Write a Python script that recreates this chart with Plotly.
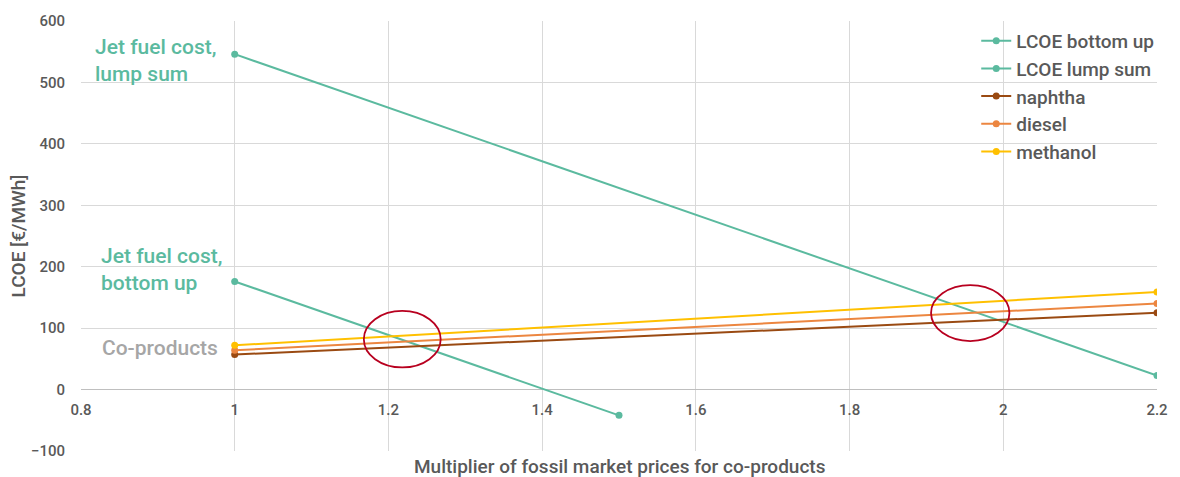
import plotly.graph_objects as go

# Multiplier of fossil market prices applied to co-products
x_lump = [1.0, 2.2]
x_bottom = [1.0, 1.5]
x_coprod = [1.0, 2.2]

# Levelised cost values [€/MWh]
lcoe_bottom_up = [176, -42]
lcoe_lump_sum = [546, 23]
naphtha = [57, 125]
diesel = [64, 140]
methanol = [72, 159]

x_ticks = [0.8, 1.0, 1.2, 1.4, 1.6, 1.8, 2.0, 2.2]
x_tick_text = ["0.8", "1", "1.2", "1.4", "1.6", "1.8", "2", "2.2"]
y_ticks = [-100, 0, 100, 200, 300, 400, 500, 600]

TEAL = "#5BBA9F"
FONT = "Roboto"
GREY_TXT = "#595959"

fig = go.Figure()

series = [
    ("LCOE bottom up", x_bottom, lcoe_bottom_up, TEAL),
    ("LCOE lump sum", x_lump, lcoe_lump_sum, TEAL),
    ("naphtha", x_coprod, naphtha, "#9A4A12"),
    ("diesel", x_coprod, diesel, "#EC8640"),
    ("methanol", x_coprod, methanol, "#FFC000"),
]
for name, xs, ys, col in series:
    fig.add_trace(go.Scatter(
        x=xs, y=ys, name=name, mode="lines+markers",
        line=dict(color=col, width=2),
        marker=dict(color=col, size=7),
    ))

# Intersection highlights
fig.add_shape(type="circle", xref="x", yref="y",
              x0=1.168, x1=1.268, y0=36, y1=128,
              line=dict(color="#B8001F", width=1.8))
fig.add_shape(type="circle", xref="x", yref="y",
              x0=1.906, x1=2.008, y0=79, y1=170,
              line=dict(color="#B8001F", width=1.8))

ann_font = dict(family=FONT, size=21, color=TEAL, weight=500)
fig.add_annotation(x=0.815, y=536, xref="x", yref="y", xanchor="left", yanchor="middle",
                   text="Jet fuel cost,<br>lump sum", showarrow=False, align="left",
                   font=ann_font)
fig.add_annotation(x=0.824, y=196, xref="x", yref="y", xanchor="left", yanchor="middle",
                   text="Jet fuel cost,<br>bottom up", showarrow=False, align="left",
                   font=ann_font)
fig.add_annotation(x=0.825, y=68, xref="x", yref="y", xanchor="left", yanchor="middle",
                   text="Co-products", showarrow=False, align="left",
                   font=dict(family=FONT, size=21, color="#A6A6A6", weight=500))

# X axis title placed below the plot frame
fig.add_annotation(x=0.5, y=-0.035, xref="paper", yref="paper", xanchor="center", yanchor="middle",
                   text="Multiplier of fossil market prices for co-products", showarrow=False,
                   font=dict(family=FONT, size=19, color=GREY_TXT, weight=500))

fig.update_layout(
    width=1180, height=477,
    margin=dict(l=81, r=18, t=16, b=26),
    paper_bgcolor="white", plot_bgcolor="white",
    font=dict(family=FONT, size=15, color=GREY_TXT, weight=500),
    showlegend=True,
    legend=dict(x=0.832, y=0.998, xanchor="left", yanchor="top",
                bgcolor="rgba(0,0,0,0)", font=dict(size=19, color=GREY_TXT, weight=500),
                itemwidth=30, tracegroupgap=0),
    xaxis=dict(
        range=[0.8, 2.2], tickvals=x_ticks, ticktext=x_tick_text,
        showgrid=True, gridcolor="#D9D9D9", gridwidth=1,
        zeroline=False, showline=False,
        anchor="free", position=100 / 700,
        ticks="outside", ticklen=6, tickcolor="rgba(0,0,0,0)",
        tickfont=dict(size=15, color=GREY_TXT, weight=500),
    ),
    yaxis=dict(
        range=[-100, 600], tickvals=y_ticks,
        showgrid=True, gridcolor="#D9D9D9", gridwidth=1,
        zeroline=True, zerolinecolor="#BFBFBF", zerolinewidth=1,
        showline=False,
        ticks="outside", ticklen=12, tickcolor="rgba(0,0,0,0)",
        tickfont=dict(size=15, color=GREY_TXT, weight=500),
        title=dict(text="LCOE [€/MWh]", font=dict(size=19, color=GREY_TXT, weight=500), standoff=0),
    ),
)

fig.write_html("out.html")
